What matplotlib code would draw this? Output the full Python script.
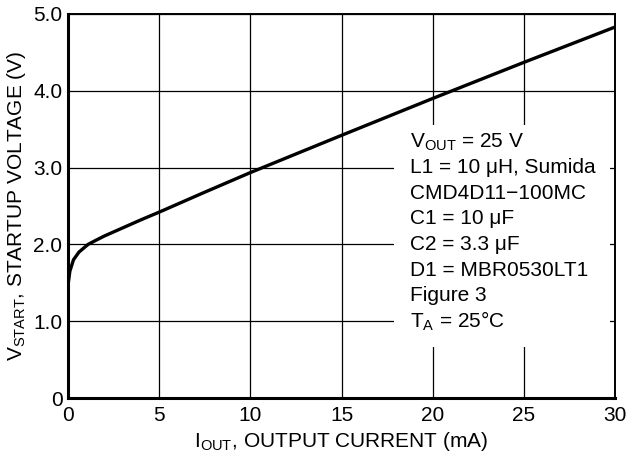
import matplotlib
matplotlib.use("Agg")
import matplotlib.pyplot as plt
from matplotlib.patches import Rectangle

# startup voltage vs output current
i_out = [0, 0.1, 0.3, 0.6, 1.1, 1.5, 2, 3, 4, 5, 7.5, 10, 15, 20, 25, 30]
v_start = [1.47, 1.65, 1.80, 1.90, 2.00, 2.05, 2.11, 2.215, 2.32, 2.42, 2.68, 2.935, 3.42, 3.90, 4.37, 4.83]

x_ticks = [0, 5, 10, 15, 20, 25, 30]
y_ticks = [0, 1, 2, 3, 4, 5]
y_labels = ["0", "1.0", "2.0", "3.0", "4.0", "5.0"]

notes = [
    r"V$_{\mathregular{OUT}}$ = 25 V",
    "L1 = 10 μH, Sumida",
    "CMD4D11\u2212100MC",
    "C1 = 10 μF",
    "C2 = 3.3 μF",
    "D1 = MBR0530LT1",
    "Figure 3",
    r"T$_{\mathregular{A}}$ = 25°C",
]

plt.rcParams["font.family"] = ["Liberation Sans", "DejaVu Sans"]
plt.rcParams["mathtext.fontset"] = "custom"
plt.rcParams["mathtext.rm"] = "Liberation Sans"

fs = 15

fig = plt.figure(figsize=(6.31, 4.57), dpi=100)
ax = fig.add_axes([0.1078, 0.1291, 0.8669, 0.8403])

ax.plot(i_out, v_start, color="black", lw=2.4, zorder=3, solid_capstyle="butt")

ax.set_xlim(0, 30)
ax.set_ylim(0, 5)
ax.set_xticks(x_ticks)
ax.set_yticks(y_ticks)
ax.set_yticklabels(y_labels)
ax.tick_params(length=0, labelsize=fs, colors="black")
ax.tick_params(axis="y", pad=4)
ax.tick_params(axis="x", pad=6)
ax.set_axisbelow(True)
ax.grid(True, color="black", lw=0.9)

for side in ["left", "bottom"]:
    ax.spines[side].set_linewidth(2.2)
for side in ["top", "right"]:
    ax.spines[side].set_linewidth(1.4)

# white box behind the conditions text
ax.add_patch(Rectangle((17.9, 0.66), 11.8, 2.89, facecolor="white", edgecolor="none", zorder=1.5))
for k, line in enumerate(notes):
    ax.text(18.75, 3.333 - k / 3, line, fontsize=fs, va="center", ha="left", zorder=4)

ax.set_xlabel(r"I$_{\mathregular{OUT}}$, OUTPUT CURRENT (mA)", fontsize=fs, labelpad=3)
ax.set_ylabel(r"V$_{\mathregular{START}}$, STARTUP VOLTAGE (V)", fontsize=fs, labelpad=4)

fig.savefig("out.png", dpi=100)
